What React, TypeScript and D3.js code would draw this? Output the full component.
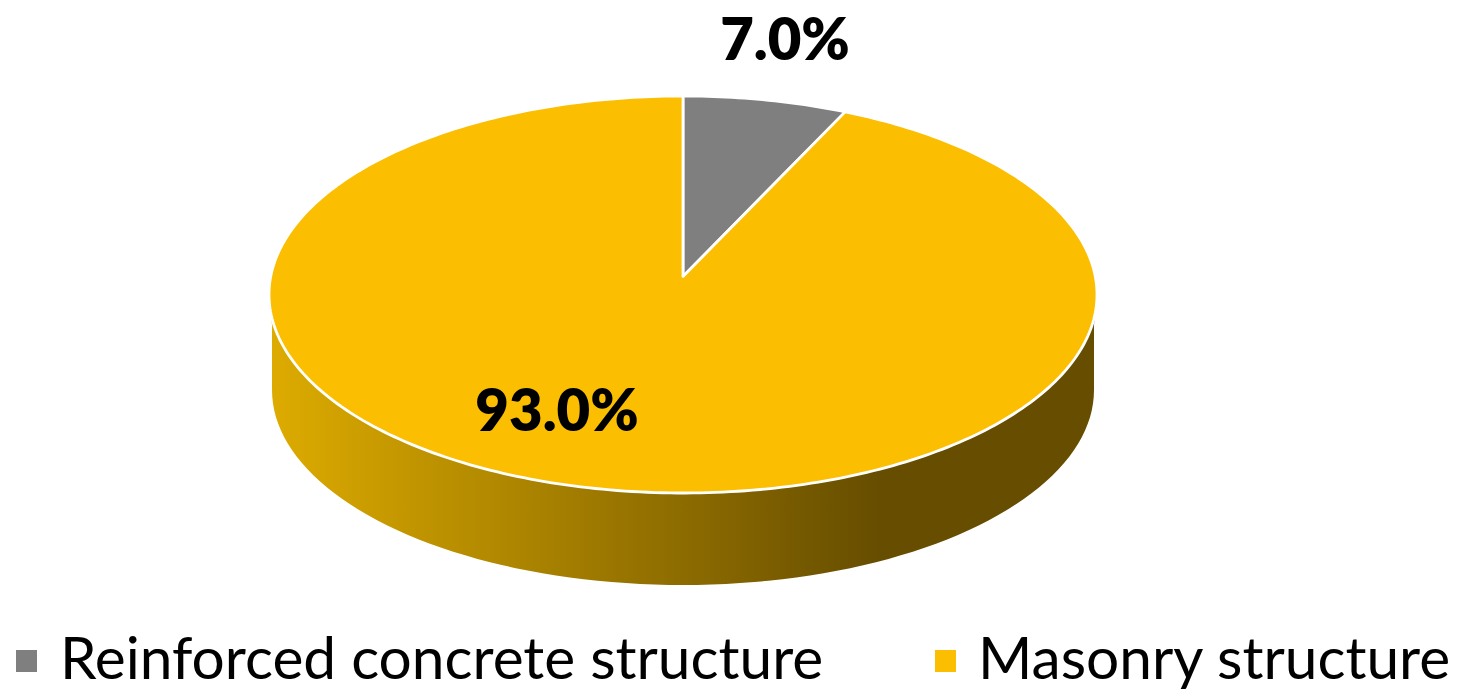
import React from "react";
import * as d3 from "d3";

const categories = ["Reinforced concrete structure", "Masonry structure"];
const shares = [7.0, 93.0];
const colors = ["#7F7F7F", "#FBBE00"];
const labels = ["7.0%", "93.0%"];

const W = 1458, H = 695;
const cx = 683, cy = 294.5, rx = 414, ry = 198.5;
const apexOffset = -0.091; // perspective shift of the pie centre on the ellipse
const x = d3.scaleLinear().domain([-1, 1]).range([cx - rx, cx + rx]);
const y = d3.scaleLinear().domain([-1, 1]).range([cy - ry, cy + ry]);

// perspective projection of a unit-circle point (angle clockwise from 12 o'clock)
function project(angle: number, r = 1): [number, number] {
  const X = r * Math.sin(angle), Y = -r * Math.cos(angle);
  const a = apexOffset, d = 1 + a * Y;
  return [x((X * Math.sqrt(1 - a * a)) / d), y((Y + a) / d)];
}
const arcs = d3.pie<number>().sort(null)(shares);
const slicePath = (s: number, e: number) => {
  const pts: [number, number][] = [project(0, 0)];
  const n = Math.max(8, Math.ceil((e - s) * 60));
  d3.range(n + 1).forEach((i) => pts.push(project(s + ((e - s) * i) / n)));
  return d3.line()(pts) + "Z";
};

const bx = 683, brx = 411, bcy = 390, bry = 195;
const sidePath = () => {
  const lower = d3.range(0, 181, 2).map((t): [number, number] => {
    const r = (t * Math.PI) / 180;
    return [bx + brx * Math.cos(r), bcy + bry * Math.sin(r)];
  });
  const top = d3.range(180, -1, -2).map((t): [number, number] => {
    const r = (t * Math.PI) / 180;
    return [cx + rx * Math.cos(r), cy + ry * Math.sin(r)];
  });
  return d3.line()([...lower, [bx - brx, 325] as [number, number], ...top, [bx + brx, 325] as [number, number]]) + "Z";
};

const font = "Lato, 'Noto Sans', sans-serif";

export default function App() {
  return (
    <svg width={W} height={H} viewBox={`0 0 ${W} ${H}`} style={{ position: "absolute", left: 0, top: 0, display: "block", background: "#fff" }}>
      <defs>
        <linearGradient id="side" gradientUnits="userSpaceOnUse" x1={272} x2={880} y1={0} y2={0}>
          <stop offset="0" stopColor="#DDAB00" />
          <stop offset="1" stopColor="#664D00" />
        </linearGradient>
      </defs>
      <path d={sidePath()} fill="url(#side)" />
      {arcs.map((a, i) => (
        <path key={i} d={slicePath(a.startAngle, a.endAngle)} fill={colors[i]} stroke="#fff" strokeWidth={2.8} strokeLinejoin="round" />
      ))}
      <text x={785} y={60} textAnchor="middle" fontFamily={font} fontWeight={800} fontSize={58} fill="#000">{labels[0]}</text>
      <text x={557} y={431} textAnchor="middle" fontFamily={font} fontWeight={800} fontSize={58} fill="#000">{labels[1]}</text>
      <rect x={16} y={650} width={21} height={22} fill={colors[0]} />
      <text x={60} y={679} fontFamily={font} fontSize={58.6} fill="#000">{categories[0]}</text>
      <rect x={935} y={650} width={21} height={22} fill={colors[1]} />
      <text x={978} y={679} fontFamily={font} fontSize={58.6} fill="#000">{categories[1]}</text>
    </svg>
  );
}
